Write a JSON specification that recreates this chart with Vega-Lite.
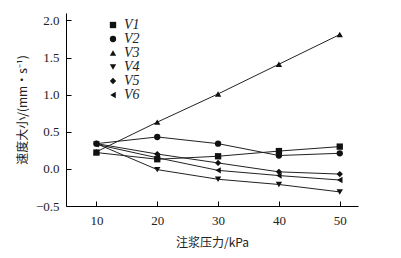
{
  "$schema": "https://vega.github.io/schema/vega-lite/v6.json",
  "width": 292,
  "height": 193,
  "autosize": "none",
  "padding": {"left": 66, "top": 13, "right": 43, "bottom": 52},
  "background": "white",
  "config": {
    "view": {"stroke": null},
    "axis": {
      "domainColor": "black",
      "tickColor": "black",
      "labelColor": "#222",
      "titleColor": "#222",
      "labelFont": "Liberation Serif, Times New Roman, serif",
      "labelFontSize": 13,
      "grid": false,
      "tickSize": -5
    }
  },
  "data": {
    "values": [
      {"p": 10, "s": "V1", "v": 0.22}, {"p": 20, "s": "V1", "v": 0.13}, {"p": 30, "s": "V1", "v": 0.17}, {"p": 40, "s": "V1", "v": 0.24}, {"p": 50, "s": "V1", "v": 0.30},
      {"p": 10, "s": "V2", "v": 0.34}, {"p": 20, "s": "V2", "v": 0.43}, {"p": 30, "s": "V2", "v": 0.34}, {"p": 40, "s": "V2", "v": 0.18}, {"p": 50, "s": "V2", "v": 0.21},
      {"p": 10, "s": "V3", "v": 0.23}, {"p": 20, "s": "V3", "v": 0.63}, {"p": 30, "s": "V3", "v": 1.01}, {"p": 40, "s": "V3", "v": 1.41}, {"p": 50, "s": "V3", "v": 1.81},
      {"p": 10, "s": "V4", "v": 0.34}, {"p": 20, "s": "V4", "v": -0.01}, {"p": 30, "s": "V4", "v": -0.14}, {"p": 40, "s": "V4", "v": -0.21}, {"p": 50, "s": "V4", "v": -0.31},
      {"p": 10, "s": "V5", "v": 0.34}, {"p": 20, "s": "V5", "v": 0.20}, {"p": 30, "s": "V5", "v": 0.08}, {"p": 40, "s": "V5", "v": -0.04}, {"p": 50, "s": "V5", "v": -0.07},
      {"p": 10, "s": "V6", "v": 0.33}, {"p": 20, "s": "V6", "v": 0.15}, {"p": 30, "s": "V6", "v": -0.02}, {"p": 40, "s": "V6", "v": -0.09}, {"p": 50, "s": "V6", "v": -0.15}
    ]
  },
  "encoding": {
    "x": {
      "field": "p", "type": "quantitative",
      "scale": {"domain": [5, 53], "nice": false, "zero": false},
      "axis": {"values": [10, 20, 30, 40, 50], "labelPadding": 13, "title": "注浆压力/kPa", "titleFont": "Noto Sans CJK SC", "titleFontSize": 12, "titleFontWeight": "normal", "titlePadding": 10}
    },
    "y": {
      "field": "v", "type": "quantitative",
      "scale": {"domain": [-0.5, 2.1], "nice": false, "zero": false},
      "axis": {"values": [-0.5, 0, 0.5, 1, 1.5, 2], "format": ".1f", "labelPadding": 12, "title": "速度大小/(mm·s⁻¹)", "titleFont": "Noto Sans CJK SC", "titleFontSize": 12, "titleFontWeight": "normal", "titlePadding": 6}
    }
  },
  "layer": [
    {
      "mark": {"type": "line", "color": "#222", "strokeWidth": 1},
      "encoding": {"detail": {"field": "s"}}
    },
    {
      "mark": {"type": "point", "filled": true, "color": "#111", "opacity": 1, "size": 40},
      "encoding": {
        "shape": {
          "field": "s", "type": "nominal",
          "scale": {"domain": ["V1", "V2", "V3", "V4", "V5", "V6"], "range": ["square", "circle", "triangle-up", "triangle-down", "diamond", "triangle-left"]},
          "legend": {
            "title": null, "orient": "none", "legendX": 40, "legendY": 5,
            "labelFont": "Liberation Serif, Times New Roman, serif", "labelFontStyle": "italic", "labelFontSize": 14,
            "labelColor": "#222", "symbolFillColor": "#111", "symbolStrokeColor": "#111",
            "symbolSize": 40, "rowPadding": 0, "labelOffset": 4, "symbolOffset": 0
          }
        }
      }
    }
  ]
}
